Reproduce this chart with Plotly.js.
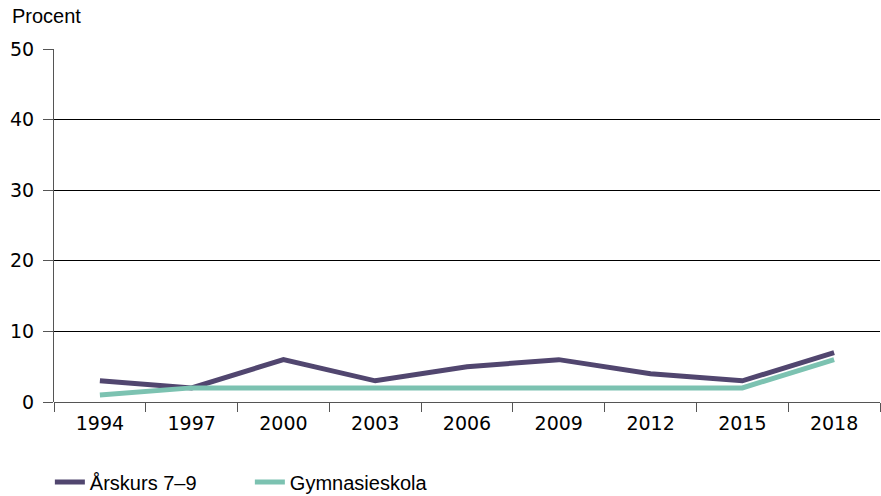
<!DOCTYPE html>
<html>
<head>
<meta charset="utf-8">
<script src="https://cdn.plot.ly/plotly-3.0.1.min.js"></script>
<style>body{margin:0;padding:0;background:#fff;} #chart{width:881px;height:496px;}</style>
</head>
<body>
<div id="chart"></div>
<script>
const years = ["1994","1997","2000","2003","2006","2009","2012","2015","2018"];
const arskurs = [3, 2, 6, 3, 5, 6, 4, 3, 7];
const gymnasie = [1, 2, 2, 2, 2, 2, 2, 2, 6];
const seriesNames = ["Årskurs 7–9", "Gymnasieskola"];
const yTitle = "Procent";

const font = "Liberation Sans, Arial, sans-serif";
const numFont = "DejaVu Sans, Liberation Sans, sans-serif";
const fs = 20;
const traces = [
  {x: years, y: arskurs, name: seriesNames[0], type: "scatter", mode: "lines",
   line: {color: "#51466f", width: 5}},
  {x: years, y: gymnasie, name: seriesNames[1], type: "scatter", mode: "lines",
   line: {color: "#7cc2b1", width: 5}}
];
const layout = {
  width: 881, height: 496,
  margin: {l: 54, r: 1, t: 49, b: 94, autoexpand: false},
  paper_bgcolor: "#fff", plot_bgcolor: "#fff",
  font: {family: font, size: fs, color: "#000"},
  showlegend: true,
  legend: {orientation: "h", x: -0.005, xanchor: "left", y: -0.2266, yanchor: "middle",
           entrywidth: 155, entrywidthmode: "pixels",
           font: {family: font, size: fs, color: "#000"}, traceorder: "normal"},
  xaxis: {type: "category", range: [-0.5, 8.5], tickson: "boundaries", ticks: "outside", ticklen: 9,
          tickcolor: "#555", tickwidth: 1, showgrid: false, showline: false, zeroline: false,
          ticklabelstandoff: 8,
          tickfont: {family: numFont, size: 19}, fixedrange: true},
  yaxis: {range: [0, 50], dtick: 10, ticks: "outside", ticklen: 10, tickcolor: "#555",
          showgrid: true, gridcolor: "#000", gridwidth: 1, showline: true, linecolor: "#555",
          linewidth: 1, zeroline: true, zerolinecolor: "#555", zerolinewidth: 1,
          ticklabelstandoff: 5,
          tickfont: {family: numFont, size: 19}, fixedrange: true},
  annotations: [{text: yTitle, xref: "paper", yref: "paper", x: -54/826, y: 1 + 33/353,
                 xanchor: "left", yanchor: "middle", showarrow: false, xshift: 10,
                 font: {family: font, size: fs, color: "#000"}}]
};
Plotly.newPlot("chart", traces, layout, {displayModeBar: false, staticPlot: true});
</script>
</body>
</html>
